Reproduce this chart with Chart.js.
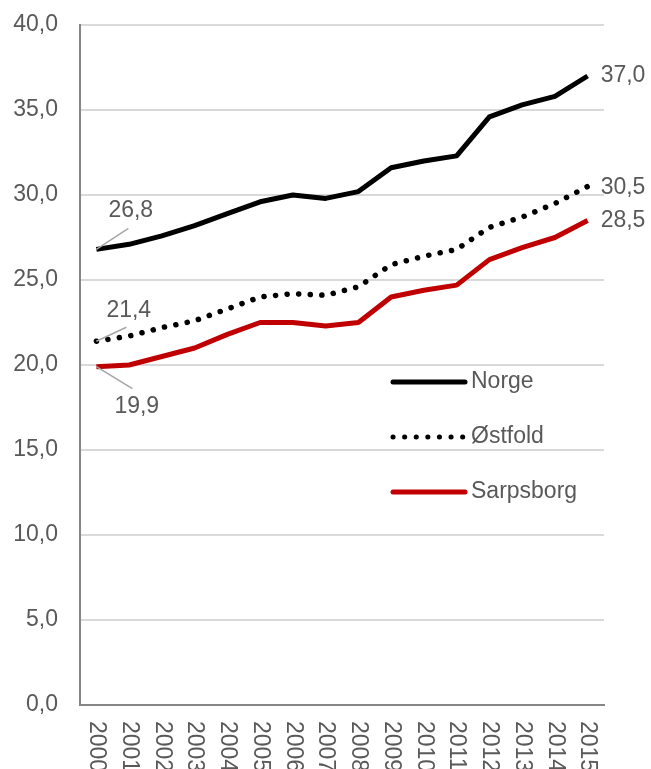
<!DOCTYPE html>
<html>
<head>
<meta charset="utf-8">
<script src="https://cdn.jsdelivr.net/npm/chart.js@4"></script>
<style>
  html, body { margin: 0; padding: 0; background: #fff; }
  #wrap { width: 651px; height: 769px; }
</style>
</head>
<body>
<div id="wrap"><canvas id="myChart" width="651" height="769"></canvas></div>
<script>
const years = ['2000','2001','2002','2003','2004','2005','2006','2007','2008','2009','2010','2011','2012','2013','2014','2015'];
const norge = [26.8, 27.1, 27.6, 28.2, 28.9, 29.6, 30.0, 29.8, 30.2, 31.6, 32.0, 32.3, 34.6, 35.3, 35.8, 37.0];
const ostfold = [21.4, 21.7, 22.2, 22.6, 23.3, 24.0, 24.2, 24.1, 24.6, 25.9, 26.4, 26.8, 28.1, 28.7, 29.5, 30.5];
const sarpsborg = [19.9, 20.0, 20.5, 21.0, 21.8, 22.5, 22.5, 22.3, 22.5, 24.0, 24.4, 24.7, 26.2, 26.9, 27.5, 28.5];
const yTicks = [0, 5, 10, 15, 20, 25, 30, 35, 40];

const FONT = '23px "Liberation Sans", Arial, sans-serif';
const TEXT = '#595959';

const fmt = v => v.toFixed(1).replace('.', ',');

// start/end value labels, legend and rotated year labels
const extras = {
  id: 'extras',
  afterDraw(chart){
    const ctx = chart.ctx;
    const area = chart.chartArea;
    const xs = chart.scales.x;
    ctx.save();
    ctx.font = FONT;
    ctx.fillStyle = TEXT;
    ctx.textBaseline = 'middle';

    // start labels with leader lines
    const starts = [
      {ds: 0, dx: 12, dy: -39, lx: 32, ly: -21},
      {ds: 1, dx: 10, dy: -31, lx: 30, ly: -14},
      {ds: 2, dx: 18, dy: 40, lx: 36, ly: 22}
    ];
    starts.forEach(s => {
      const pt = chart.getDatasetMeta(s.ds).data[0];
      ctx.strokeStyle = '#a6a6a6';
      ctx.lineWidth = 1.5;
      ctx.beginPath();
      ctx.moveTo(pt.x, pt.y);
      ctx.lineTo(pt.x + s.lx, pt.y + s.ly);
      ctx.stroke();
      ctx.textAlign = 'left';
      ctx.fillText(fmt(chart.data.datasets[s.ds].data[0]), pt.x + s.dx, pt.y + s.dy);
    });

    // end labels
    chart.data.datasets.forEach((d, i) => {
      const meta = chart.getDatasetMeta(i);
      const pt = meta.data[meta.data.length - 1];
      ctx.textAlign = 'left';
      ctx.fillText(fmt(d.data[d.data.length - 1]), pt.x + 13, pt.y + (i === 1 ? 1 : 0));
    });

    // legend inside the plot
    const lx = area.left + 313;
    const rows = [area.top + 357, area.top + 412, area.top + 467];
    chart.data.datasets.forEach((d, i) => {
      const y = rows[i];
      ctx.strokeStyle = d.borderColor;
      ctx.lineWidth = 5;
      ctx.lineCap = 'round';
      ctx.setLineDash(d.borderDash || []);
      ctx.beginPath();
      ctx.moveTo(lx, y);
      ctx.lineTo(lx + 72, y);
      ctx.stroke();
      ctx.setLineDash([]);
      ctx.fillStyle = TEXT;
      ctx.textAlign = 'left';
      ctx.fillText(d.label, lx + 78, y);
    });

    // year labels, rotated to read top to bottom
    ctx.textAlign = 'left';
    ctx.textBaseline = 'middle';
    years.forEach((y, i) => {
      const x = xs.getPixelForTick(i);
      ctx.save();
      ctx.translate(x, area.bottom + 16);
      ctx.rotate(Math.PI / 2);
      ctx.fillText(y, 0, 0);
      ctx.restore();
    });
    ctx.restore();
  }
};

const ctx = document.getElementById('myChart').getContext('2d');
const myChart = new Chart(ctx, {
  type: 'line',
  data: {
    labels: years,
    datasets: [
      {
        label: 'Norge',
        data: norge,
        borderColor: '#000000',
        borderWidth: 5,
        pointRadius: 0,
        tension: 0,
        borderJoinStyle: 'round'
      },
      {
        label: 'Østfold',
        data: ostfold,
        borderColor: '#000000',
        borderWidth: 5.5,
        borderDash: [0.1, 11.5],
        borderCapStyle: 'round',
        pointRadius: 0,
        tension: 0
      },
      {
        label: 'Sarpsborg',
        data: sarpsborg,
        borderColor: '#c00000',
        borderWidth: 5,
        pointRadius: 0,
        tension: 0,
        borderJoinStyle: 'round'
      }
    ]
  },
  options: {
    responsive: false,
    animation: false,
    layout: { padding: { top: 25, right: 47, left: 0, bottom: 0 } },
    plugins: {
      legend: { display: false },
      tooltip: { enabled: false }
    },
    scales: {
      x: {
        offset: true,
        grid: { display: false, drawTicks: false },
        border: { color: '#868686', width: 2 },
        ticks: { display: false },
        afterFit(scale){ scale.height = 64; }
      },
      y: {
        min: 0,
        max: 40,
        afterBuildTicks(scale){ scale.ticks = yTicks.map(v => ({value: v})); },
        grid: { color: '#d9d9d9', lineWidth: 2, drawTicks: false },
        border: { color: '#868686', width: 2 },
        ticks: {
          color: TEXT,
          font: { family: '"Liberation Sans", Arial, sans-serif', size: 23 },
          padding: 22,
          callback: v => fmt(v)
        },
        afterFit(scale){
          scale.width = 80;
          scale.paddingTop = 0;
          scale.paddingBottom = 0;
        }
      }
    }
  },
  plugins: [extras]
});
</script>
</body>
</html>
